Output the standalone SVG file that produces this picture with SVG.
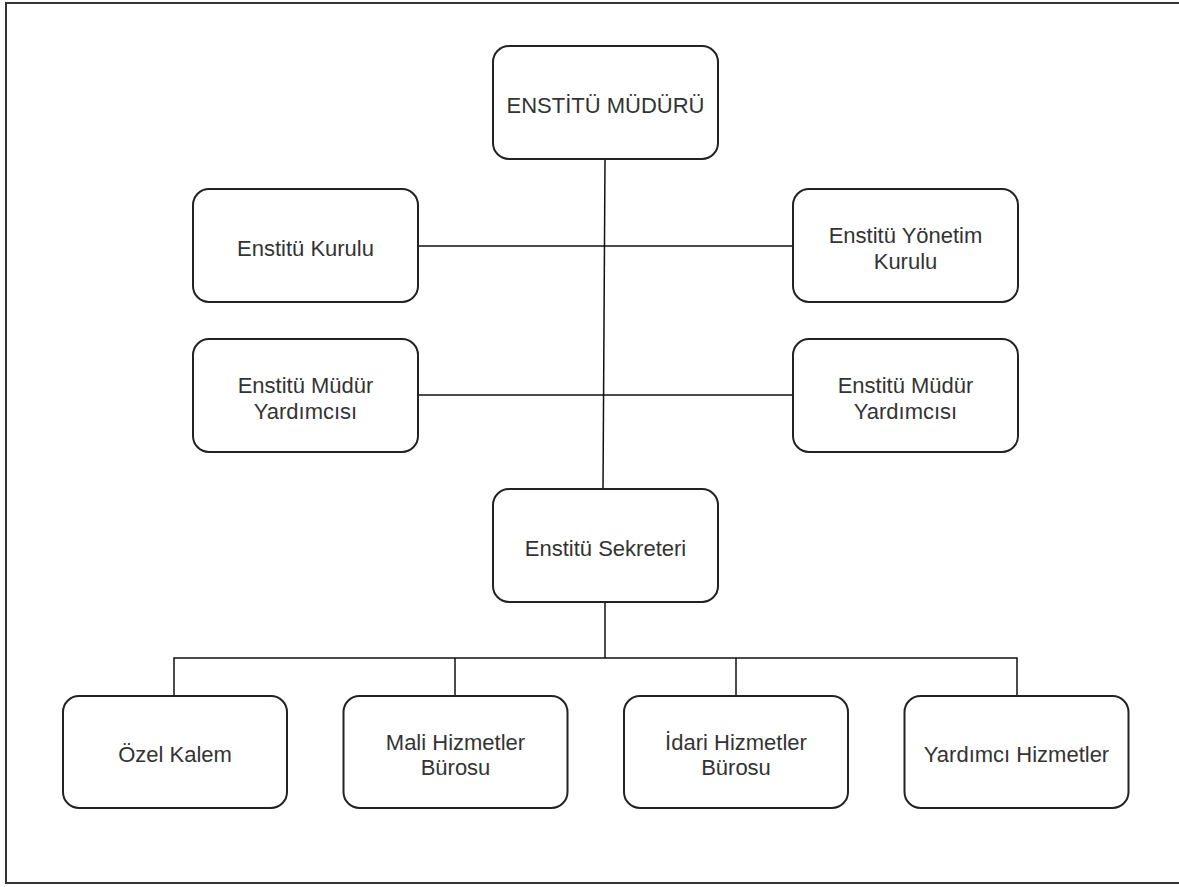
<svg xmlns="http://www.w3.org/2000/svg" width="1179" height="887" viewBox="0 0 1179 887">
<style>
.box{fill:#fff;stroke:#222;stroke-width:2}
.lbl{font-family:"Liberation Sans",Arial,sans-serif;font-size:22px;fill:#333;text-anchor:middle}
.con{stroke:#111;stroke-width:1.5;fill:none}
</style>
<rect x="6" y="3" width="1200" height="880" fill="#fff" stroke="#333" stroke-width="2"/>
<g id="connectors">
<line class="con" x1="605" y1="159" x2="603" y2="489"/>
<line class="con" x1="418" y1="246" x2="793" y2="246"/>
<line class="con" x1="418" y1="395" x2="793" y2="395"/>
<line class="con" x1="605" y1="602" x2="605" y2="658"/>
<polyline class="con" points="174,696 174,658 1017,658 1017,696"/>
<line class="con" x1="455" y1="658" x2="455" y2="696"/>
<line class="con" x1="736" y1="658" x2="736" y2="696"/>
</g>
<g id="mudur">
<rect class="box" x="493" y="46" width="225" height="113" rx="16"/>
<text class="lbl" x="605.5" y="113">ENSTİTÜ MÜDÜRÜ</text>
</g>
<g id="kurulu">
<rect class="box" x="193" y="189" width="225" height="113" rx="16"/>
<text class="lbl" x="305.5" y="256">Enstitü Kurulu</text>
</g>
<g id="yonetim">
<rect class="box" x="793" y="189" width="225" height="113" rx="16"/>
<text class="lbl" x="905.5" y="243">Enstitü Yönetim</text>
<text class="lbl" x="905.5" y="269">Kurulu</text>
</g>
<g id="yardimci1">
<rect class="box" x="193" y="339" width="225" height="113" rx="16"/>
<text class="lbl" x="305.5" y="393">Enstitü Müdür</text>
<text class="lbl" x="305.5" y="419">Yardımcısı</text>
</g>
<g id="yardimci2">
<rect class="box" x="793" y="339" width="225" height="113" rx="16"/>
<text class="lbl" x="905.5" y="393">Enstitü Müdür</text>
<text class="lbl" x="905.5" y="419">Yardımcısı</text>
</g>
<g id="sekreter">
<rect class="box" x="493" y="489" width="225" height="113" rx="16"/>
<text class="lbl" x="605.5" y="556">Enstitü Sekreteri</text>
</g>
<g id="ozel">
<rect class="box" x="63" y="696" width="224" height="112" rx="16"/>
<text class="lbl" x="175" y="762">Özel Kalem</text>
</g>
<g id="mali">
<rect class="box" x="343.5" y="696" width="224" height="112" rx="16"/>
<text class="lbl" x="455.5" y="750">Mali Hizmetler</text>
<text class="lbl" x="455.5" y="775">Bürosu</text>
</g>
<g id="idari">
<rect class="box" x="624" y="696" width="224" height="112" rx="16"/>
<text class="lbl" x="736" y="750">İdari Hizmetler</text>
<text class="lbl" x="736" y="775">Bürosu</text>
</g>
<g id="yardimcihiz">
<rect class="box" x="904.5" y="696" width="224" height="112" rx="16"/>
<text class="lbl" x="1016.5" y="762">Yardımcı Hizmetler</text>
</g>
</svg>
